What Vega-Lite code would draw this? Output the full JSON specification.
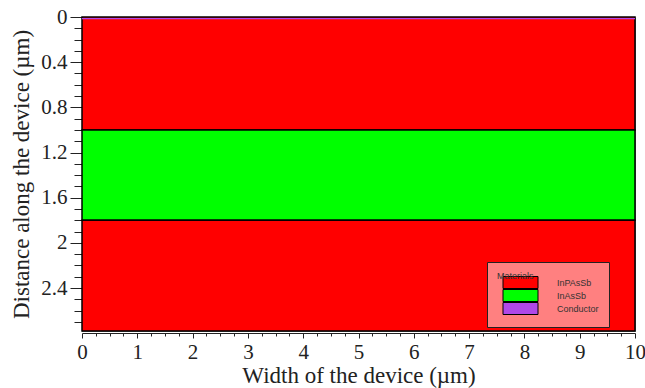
{
  "$schema": "https://vega.github.io/schema/vega-lite/v6.json",
  "width": 553,
  "height": 314,
  "autosize": {"type": "none"},
  "padding": {"left": 82, "top": 17, "right": 10, "bottom": 57},
  "background": "white",
  "config": {
    "view": {"stroke": "#777", "strokeWidth": 1},
    "font": "Liberation Serif",
    "axis": {"labelFont": "Liberation Serif", "titleFont": "Liberation Serif"}
  },
  "data": {
    "values": [
      {"material": "InPAsSb", "x0": 0, "x1": 10, "top": 0, "bottom": 1.0},
      {"material": "InAsSb", "x0": 0, "x1": 10, "top": 1.0, "bottom": 1.8},
      {"material": "InPAsSb", "x0": 0, "x1": 10, "top": 1.8, "bottom": 2.78},
      {"material": "Conductor", "x0": 0, "x1": 10, "top": 0.008, "bottom": 0.02}
    ]
  },
  "encoding": {
    "x": {
      "field": "x0",
      "type": "quantitative",
      "scale": {"domain": [0, 10], "nice": false, "zero": false},
      "axis": {
        "title": "Width of the device (µm)",
        "titleFont": "Liberation Serif",
        "titleFontSize": 23,
        "titleFontWeight": "normal",
        "titleColor": "#222",
        "titlePadding": 2,
        "values": [0,0.25,0.5,0.75,1,1.25,1.5,1.75,2,2.25,2.5,2.75,3,3.25,3.5,3.75,4,4.25,4.5,4.75,5,5.25,5.5,5.75,6,6.25,6.5,6.75,7,7.25,7.5,7.75,8,8.25,8.5,8.75,9,9.25,9.5,9.75,10],
        "labelExpr": "abs(datum.value - round(datum.value)) < 0.01 ? format(datum.value, 'd') : ''",
        "labelFont": "Liberation Serif",
        "labelFontSize": 21,
        "labelColor": "#222",
        "labelPadding": 3,
        "labelOverlap": false,
        "labelFlush": false,
        "tickSize": {"condition": {"test": "abs(datum.value - round(datum.value)) < 0.01", "value": 5}, "value": 3},
        "tickColor": "#222",
        "domainColor": "#222",
        "offset": 2,
        "grid": false
      }
    },
    "x2": {"field": "x1"},
    "y": {
      "field": "top",
      "type": "quantitative",
      "scale": {"domain": [0, 2.78], "reverse": true, "nice": false, "zero": false},
      "axis": {
        "title": "Distance along the device (µm)",
        "titleFont": "Liberation Serif",
        "titleFontSize": 23,
        "titleFontWeight": "normal",
        "titleColor": "#222",
        "titlePadding": 7,
        "values": [0,0.1,0.2,0.3,0.4,0.5,0.6,0.7,0.8,0.9,1.0,1.1,1.2,1.3,1.4,1.5,1.6,1.7,1.8,1.9,2.0,2.1,2.2,2.3,2.4,2.5,2.6,2.7],
        "labelExpr": "round(datum.value*10) % 4 == 0 ? format(datum.value, '.1~f') : ''",
        "labelFont": "Liberation Serif",
        "labelFontSize": 21,
        "labelColor": "#222",
        "labelPadding": 3,
        "labelOverlap": false,
        "labelFlush": false,
        "tickSize": {"condition": {"test": "round(datum.value*10) % 4 == 0", "value": 12}, "value": 8},
        "tickColor": "#222",
        "domainColor": "#222",
        "grid": false
      }
    },
    "y2": {"field": "bottom"},
    "color": {
      "field": "material",
      "type": "nominal",
      "scale": {"domain": ["InPAsSb", "InAsSb", "Conductor"], "range": ["#ff0000", "#00ff00", "#b048e8"]},
      "legend": {
        "orient": "none",
        "legendX": 405,
        "legendY": 245,
        "title": "Materials",
        "titleFont": "Liberation Sans",
        "titleFontSize": 9,
        "titleFontWeight": "normal",
        "titleColor": "#333",
        "titlePadding": -3,
        "labelFont": "Liberation Sans",
        "labelFontSize": 9,
        "labelColor": "#333",
        "labelOffset": 51,
        "symbolType": "M0.375,-1.5H9.125V1.5H0.375Z",
        "symbolSize": 64,
        "symbolStrokeColor": "black",
        "symbolStrokeWidth": 1,
        "symbolOpacity": 1,
        "rowPadding": -4,
        "padding": 10,
        "fillColor": "rgba(255,255,255,0.5)",
        "strokeColor": "#222"
      }
    }
  },
  "layer": [
    {
      "transform": [{"filter": "datum.material != 'Conductor'"}],
      "mark": {"type": "rect", "stroke": "black", "strokeWidth": 1.5}
    },
    {
      "transform": [{"filter": "datum.material == 'Conductor'"}],
      "mark": {"type": "rect", "strokeWidth": 0}
    }
  ]
}
